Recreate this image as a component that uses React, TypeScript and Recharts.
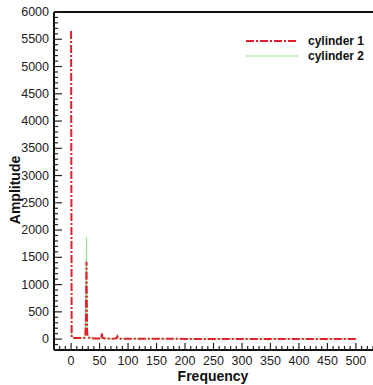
import { LineChart, Line, XAxis, YAxis, ReferenceLine } from 'recharts';

const frequency = [0, 1, 3, 6, 10, 15, 20, 24, 25, 26, 27, 28, 29, 32, 40, 48, 52, 53, 54, 55, 60, 70, 78, 80, 81, 82, 85, 100, 120, 150, 200, 250, 300, 350, 400, 450, 500];
const cylinder1 = [5650, 30, 25, 22, 20, 18, 18, 22, 45, 380, 1420, 180, 40, 20, 12, 10, 20, 60, 110, 20, 10, 8, 10, 25, 45, 20, 8, 6, 5, 5, 4, 4, 4, 4, 4, 4, 4];
const cylinder2 = [220, 40, 30, 28, 25, 25, 28, 35, 80, 600, 1870, 250, 60, 30, 18, 12, 20, 40, 70, 25, 12, 10, 15, 40, 80, 30, 10, 8, 6, 5, 5, 5, 5, 5, 5, 5, 5];

const xMajor = [0, 50, 100, 150, 200, 250, 300, 350, 400, 450, 500];
const yMajor = [0, 500, 1000, 1500, 2000, 2500, 3000, 3500, 4000, 4500, 5000, 5500, 6000];

const xTicks: number[] = [];
for (let v = -30; v <= 530; v += 10) xTicks.push(v);
const yTicks: number[] = [];
for (let v = -200; v <= 6000; v += 100) yTicks.push(v);

const data = frequency.map((f, i) => ({ f, c1: cylinder1[i], c2: cylinder2[i] }));

const FONT = 'Arial, "Liberation Sans", sans-serif';

function XTick(props: any) {
  const { x, y, payload } = props;
  const major = xMajor.includes(payload.value);
  return (
    <g>
      <line x1={x} x2={x} y1={y} y2={y - (major ? 7 : 4)} stroke="#222" strokeWidth={1.2} />
      {major && (
        <text x={x} y={y + 15} textAnchor="middle" fontSize={12.5} fill="#222" fontFamily={FONT}>
          {payload.value}
        </text>
      )}
    </g>
  );
}

function YTick(props: any) {
  const { x, y, payload } = props;
  const major = yMajor.includes(payload.value);
  return (
    <g>
      <line x1={x} x2={x + (major ? 8 : 4)} y1={y} y2={y} stroke="#222" strokeWidth={1.2} />
      {major && (
        <text x={x - 5} y={y + 4} textAnchor="end" fontSize={12.5} fill="#222" fontFamily={FONT}>
          {payload.value}
        </text>
      )}
    </g>
  );
}

export default function App() {
  return (
    <div style={{ position: 'absolute', left: 0, top: 0, width: 373, height: 385, background: '#fff' }}>
      <LineChart width={373} height={385} data={data} margin={{ top: 12, right: 0, bottom: 5, left: 0 }}>
        <XAxis
          dataKey="f"
          type="number"
          domain={[-30, 530]}
          ticks={xTicks}
          interval={0}
          height={30}
          tickSize={0}
          tickMargin={0}
          tick={<XTick />}
          stroke="#111"
          strokeWidth={2}
          allowDataOverflow
        />
        <YAxis
          type="number"
          domain={[-200, 6000]}
          ticks={yTicks}
          interval={0}
          width={54}
          tickSize={0}
          tickMargin={0}
          tick={<YTick />}
          stroke="#111"
          strokeWidth={2}
          allowDataOverflow
        />
        <ReferenceLine y={6000} stroke="#111" strokeWidth={2} />
        <Line
          dataKey="c2"
          type="linear"
          stroke="#8fe68f"
          strokeWidth={1}
          dot={false}
          isAnimationActive={false}
        />
        <Line
          dataKey="c1"
          type="linear"
          stroke="#e0202a"
          strokeWidth={2}
          strokeDasharray="8 2 2 2"
          dot={false}
          isAnimationActive={false}
        />
      </LineChart>
      <div style={{ position: 'absolute', left: 0, top: 0, pointerEvents: 'none' }}>
        <svg width={373} height={385}>
          <text x={213} y={381} textAnchor="middle" fontSize={14} fontWeight="bold" fill="#111" fontFamily={FONT}>
            Frequency
          </text>
          <text
            x={0}
            y={0}
            transform="translate(20,190) rotate(-90)"
            textAnchor="middle"
            fontSize={14}
            fontWeight="bold"
            fill="#111"
            fontFamily={FONT}
          >
            Amplitude
          </text>
          <line x1={246} x2={298} y1={41} y2={41} stroke="#e0202a" strokeWidth={2} strokeDasharray="8 2 2 2" />
          <text x={308} y={45} fontSize={12} fontWeight="bold" fill="#111" fontFamily={FONT}>cylinder 1</text>
          <line x1={246} x2={298} y1={56} y2={56} stroke="#8fe68f" strokeWidth={1} />
          <text x={308} y={60} fontSize={12} fontWeight="bold" fill="#111" fontFamily={FONT}>cylinder 2</text>
        </svg>
      </div>
    </div>
  );
}
